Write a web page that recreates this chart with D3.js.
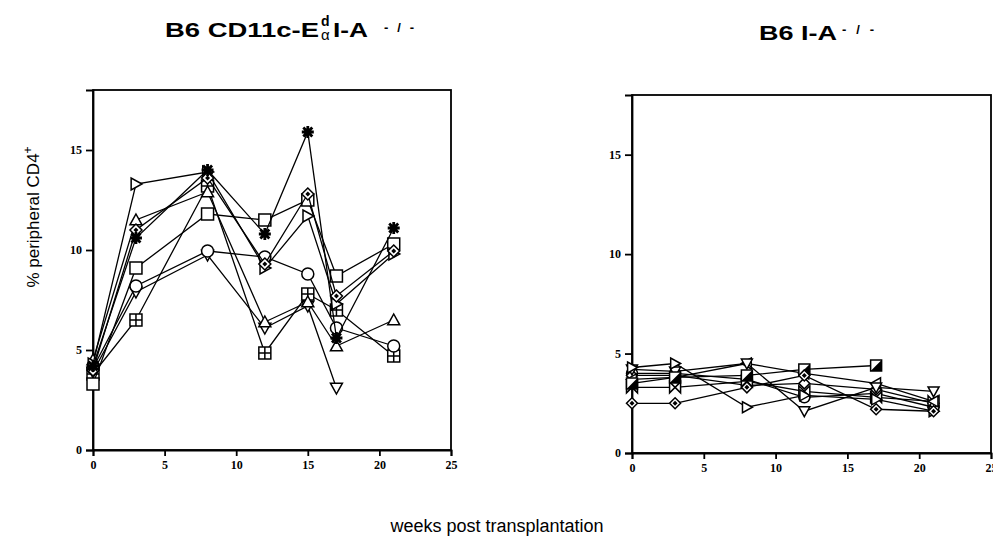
<!doctype html>
<html lang="en">
<head>
  <meta charset="utf-8">
  <title>CD4 reconstitution</title>
  <style>
    body { margin: 0; background: #fff; }
    svg { display: block; }
    .tick text { font-family: "Liberation Serif", "DejaVu Serif", serif; font-size: 12px; fill: #000; }
    .ttl { font-family: "Liberation Sans", Arial, sans-serif; font-weight: bold; fill: #000; }
    .lab { font-family: "Liberation Sans", Arial, sans-serif; fill: #000; }
    .series path.line { fill: none; stroke: #000; stroke-width: 1.3; }
    .mark { fill: #fff; stroke: #000; stroke-width: 1.5; }
  </style>
</head>

<body>
  <script src="https://cdn.jsdelivr.net/npm/d3@7"></script>
  <script>

  // left panel: B6 CD11c-EadI-A-/-
  var weeksLeft = [0, 3, 8, 12, 15, 17, 21];
  var leftStar     = [4.2, 10.6, 14.0, 10.8, 15.9, 5.6, 11.1];
  var leftSquare   = [3.3, 9.1, 11.8, 11.5, 12.5, 8.7, 10.3];
  var leftRight    = [4.3, 13.3, 13.9, 9.1, 11.7, 7.3, 9.8];
  var leftUp       = [4.5, 11.5, 12.9, 6.4, 7.4, 5.2, 6.5];
  var leftCircle   = [4.1, 8.2, 9.95, 9.65, 8.8, 6.1, 5.2];
  var leftGrid     = [3.8, 6.5, 13.2, 4.85, 7.8, 7.0, 4.7];
  var leftDown     = [3.9, 7.9, 9.75, 6.1, 7.2, 3.1, null];
  var leftDiamond  = [4.0, 11.0, 13.6, 9.3, 12.8, 7.7, 9.95];

  // right panel: B6 I-A-/-
  var weeksRight = [0, 3, 8, 12, 17, 21];
  var rightDiamond = [2.5, 2.5, 3.3, 3.9, 2.2, 2.1];
  var rightRight   = [4.3, 4.5, 2.3, 2.9, 2.7, 2.1];
  var rightDown    = [4.2, 4.1, 4.5, 2.1, 3.3, 3.1];
  var rightSquare  = [3.5, 3.8, 3.9, 4.2, 4.4, null];
  var rightLeft    = [3.7, 3.8, 4.5, 4.0, 3.5, 2.6];
  var rightBow     = [3.3, 3.3, 3.6, 3.1, 2.8, 2.6];
  var rightOpenDia = [3.9, 3.9, 3.4, 3.5, 3.2, 2.5];
  var rightCircle  = [4.0, 4.0, 3.7, 2.8, 3.0, 2.3];

  var xTicks = [0, 5, 10, 15, 20, 25];
  var yTicks = [0, 5, 10, 15];

  var leftSeries = [
    {shape: 'grid', values: leftGrid},
    {shape: 'down', values: leftDown},
    {shape: 'circle', values: leftCircle},
    {shape: 'up', values: leftUp},
    {shape: 'square', values: leftSquare},
    {shape: 'right', values: leftRight},
    {shape: 'diamond', values: leftDiamond},
    {shape: 'star', values: leftStar}
  ];
  var rightSeries = [
    {shape: 'circle', values: rightCircle},
    {shape: 'odiamond', values: rightOpenDia},
    {shape: 'bow', values: rightBow},
    {shape: 'left', values: rightLeft},
    {shape: 'down', values: rightDown},
    {shape: 'right', values: rightRight},
    {shape: 'halfsq', values: rightSquare},
    {shape: 'diamond', values: rightDiamond}
  ];

  // marker outlines, centred on 0,0
  var shapePath = function(s, r) {
    if (s == 'circle') return d3.symbol(d3.symbolCircle, Math.PI * r * r)();
    if (s == 'square' || s == 'grid' || s == 'halfsq')
      return 'M' + (-r) + ',' + (-r) + 'H' + r + 'V' + r + 'H' + (-r) + 'Z';
    if (s == 'up') return 'M0,' + (-r) + 'L' + r + ',' + (r * 0.8) + 'L' + (-r) + ',' + (r * 0.8) + 'Z';
    if (s == 'down') return 'M0,' + r + 'L' + r + ',' + (-r * 0.8) + 'L' + (-r) + ',' + (-r * 0.8) + 'Z';
    if (s == 'right') return 'M' + r + ',0L' + (-r * 0.8) + ',' + (-r) + 'L' + (-r * 0.8) + ',' + r + 'Z';
    if (s == 'left') return 'M' + (-r) + ',0L' + (r * 0.8) + ',' + (-r) + 'L' + (r * 0.8) + ',' + r + 'Z';
    if (s == 'diamond' || s == 'odiamond')
      return 'M0,' + (-r) + 'L' + r + ',0L0,' + r + 'L' + (-r) + ',0Z';
    if (s == 'bow') return 'M' + (-r) + ',' + (-r) + 'L' + r + ',' + r + 'V' + (-r) + 'L' + (-r) + ',' + r + 'Z';
    return d3.symbol(d3.symbolCircle, 40)();
  };

  var svg = d3.select("body")
      .append("svg")
      .attr("width", 993)
      .attr("height", 544);

  var yMax = 18;

  var panel = function(opts) {
    var x = d3.scaleLinear().domain([0, 25]).range([opts.left, opts.right]);
    var y = d3.scaleLinear().domain([0, yMax]).range([opts.bottom, opts.top]);
    var g = svg.append('g');

    // frame
    g.append('rect')
      .attr('x', opts.left).attr('y', opts.top)
      .attr('width', opts.right - opts.left).attr('height', opts.bottom - opts.top)
      .attr('fill', 'none').attr('stroke', '#000').attr('stroke-width', 1.8);

    var xa = g.append('g')
      .attr('transform', 'translate(0,' + opts.bottom + ')')
      .call(d3.axisBottom(x).tickValues(xTicks).tickSize(6).tickPadding(4).tickFormat(d3.format('d')));
    var ya = g.append('g')
      .attr('transform', 'translate(' + opts.left + ',0)')
      .call(d3.axisLeft(y).tickValues(yTicks).tickSize(7).tickPadding(4).tickFormat(d3.format('d')));
    [xa, ya].forEach(function(a) {
      a.select('.domain').attr('stroke-width', 1.8);
      a.selectAll('.tick line').attr('stroke-width', 1.8);
      a.selectAll('.tick text').style('font-size', '12px').style('font-weight', 'bold');
    });

    var line = d3.line()
      .defined(function(d) { return d[1] != null; })
      .x(function(d) { return x(d[0]); })
      .y(function(d) { return y(d[1]); });

    opts.series.forEach(function(s) {
      var pts = opts.weeks.map(function(w, i) { return [w, s.values[i]]; });
      var sg = g.append('g').attr('class', 'series');
      sg.append('path').attr('class', 'line').attr('d', line(pts));

      var m = sg.selectAll('g.pt').data(pts.filter(function(d) { return d[1] != null; }))
        .enter().append('g')
        .attr('class', 'pt')
        .attr('transform', function(d) { return 'translate(' + x(d[0]) + ',' + y(d[1]) + ')'; });

      if (s.shape == 'star') {
        // dark asterisk: four crossing bars
        var r = opts.r;
        m.append('path')
          .attr('d', 'M' + (-r) + ',0H' + r + 'M0,' + (-r) + 'V' + r +
                     'M' + (-r * 0.75) + ',' + (-r * 0.75) + 'L' + (r * 0.75) + ',' + (r * 0.75) +
                     'M' + (-r * 0.75) + ',' + (r * 0.75) + 'L' + (r * 0.75) + ',' + (-r * 0.75))
          .attr('fill', 'none').attr('stroke', '#000').attr('stroke-width', 2.8);
        m.append('rect').attr('x', -3).attr('y', -3).attr('width', 6).attr('height', 6).attr('fill', '#000');
        return;
      }
      m.append('path')
        .attr('class', 'mark')
        .attr('d', shapePath(s.shape, opts.r));
      if (s.shape == 'grid') {
        m.append('path')
          .attr('d', 'M0,' + (-opts.r) + 'V' + opts.r + 'M' + (-opts.r) + ',0H' + opts.r)
          .attr('stroke', '#000').attr('stroke-width', 1.5);
      }
      if (s.shape == 'halfsq') {
        m.append('path')
          .attr('d', 'M' + opts.r + ',' + (-opts.r) + 'V' + opts.r + 'H' + (-opts.r) + 'Z')
          .attr('fill', '#000');
      }
      if (s.shape == 'diamond') {
        m.append('path').attr('d', 'M0,-2.5L2.5,0L0,2.5L-2.5,0Z').attr('fill', '#000');
      }
    });
  };

  panel({left: 93, right: 451, top: 90, bottom: 450, weeks: weeksLeft, series: leftSeries, r: 6});
  panel({left: 632, right: 991, top: 95, bottom: 453, weeks: weeksRight, series: rightSeries, r: 5.5});

  // titles (the original lettering is wide, so stretch to its measured widths)
  svg.append('text').attr('class', 'ttl').attr('x', 165).attr('y', 37).style('font-size', '20px')
    .attr('textLength', 154).attr('lengthAdjust', 'spacingAndGlyphs').text('B6 CD11c-E');
  svg.append('text').attr('class', 'ttl').attr('x', 321).attr('y', 26).style('font-size', '14px').text('d');
  svg.append('text').attr('class', 'lab').attr('x', 321).attr('y', 40).style('font-size', '15px').text('α');
  svg.append('text').attr('class', 'ttl').attr('x', 333).attr('y', 37).style('font-size', '20px')
    .attr('textLength', 35).attr('lengthAdjust', 'spacingAndGlyphs').text('I-A');
  svg.append('text').attr('class', 'ttl').attr('x', 384).attr('y', 32).style('font-size', '13px')
    .attr('textLength', 30).attr('lengthAdjust', 'spacing').text('-/-');

  svg.append('text').attr('class', 'ttl').attr('x', 759).attr('y', 40).style('font-size', '20px')
    .attr('textLength', 78).attr('lengthAdjust', 'spacingAndGlyphs').text('B6 I-A');
  svg.append('text').attr('class', 'ttl').attr('x', 842).attr('y', 34).style('font-size', '13px')
    .attr('textLength', 32).attr('lengthAdjust', 'spacing').text('-/-');

  // axis labels
  var yl = svg.append('text').attr('class', 'lab')
    .attr('transform', 'translate(39,217) rotate(-90)')
    .attr('text-anchor', 'middle').style('font-size', '17px');
  yl.append('tspan').text('% peripheral CD4');
  yl.append('tspan').attr('dy', -7).style('font-size', '12px').text('+');

  svg.append('text').attr('class', 'lab')
    .attr('x', 497).attr('y', 532).attr('text-anchor', 'middle')
    .style('font-size', '18px').text('weeks post transplantation');

  </script>
</body>
</html>
